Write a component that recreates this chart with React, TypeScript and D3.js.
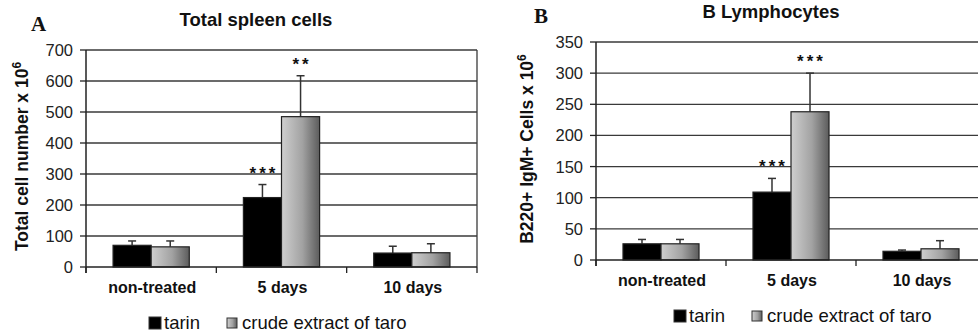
import React, { useEffect, useRef } from 'react';
import * as d3 from 'd3';

const categories = ['non-treated', '5 days', '10 days'];
const series = ['tarin', 'crude extract of taro'];

// panel A: total spleen cells (x 10^6)
const spleenTarin = [70, 224, 45];
const spleenTarinErr = [14, 42, 22];
const spleenCrude = [65, 485, 46];
const spleenCrudeErr = [19, 132, 29];
const spleenStars = [['', ''], ['***', '**'], ['', '']];
const spleenTicks = [0, 100, 200, 300, 400, 500, 600, 700];

// panel B: B220+ IgM+ cells (x 10^6)
const bTarin = [26, 109, 14];
const bTarinErr = [7, 22, 2];
const bCrude = [26, 238, 18];
const bCrudeErr = [7, 62, 13];
const bStars = [['', ''], ['***', '***'], ['', '']];
const bTicks = [0, 50, 100, 150, 200, 250, 300, 350];

const FONT = "'Liberation Sans', Arial, sans-serif";

interface PanelOpts {
  letter: string;
  title: string;
  yLabel: string;
  values: number[][];
  errors: number[][];
  stars: string[][];
  ticks: number[];
  x0: number;
  x1: number;
  yTop: number;
  yBottom: number;
  letterX: number;
  titleX: number;
  yLabelX: number;
  legendX: number;
  legendY: number;
}

function drawPanel(svg: d3.Selection<SVGSVGElement, unknown, null, undefined>, o: PanelOpts) {
  const g = svg.append('g');
  const maxV = o.ticks[o.ticks.length - 1];
  const y = d3.scaleLinear().domain([0, maxV]).range([o.yBottom, o.yTop]);
  const x = d3.scaleBand<string>().domain(categories).range([o.x0, o.x1]).padding(0);
  const xs = d3.scaleBand<string>().domain(series).range([0, x.bandwidth()]).paddingInner(0).paddingOuter(0.71);

  // gridlines
  g.selectAll('line.grid')
    .data(o.ticks.slice(1))
    .join('line')
    .attr('x1', o.x0).attr('x2', o.x1)
    .attr('y1', (d) => y(d)).attr('y2', (d) => y(d))
    .attr('stroke', '#3a3a3a').attr('stroke-width', 1.3);

  // right border
  g.append('line')
    .attr('x1', o.x1).attr('x2', o.x1).attr('y1', o.yTop).attr('y2', o.yBottom)
    .attr('stroke', '#3a3a3a').attr('stroke-width', 1.3);

  // y ticks + labels
  g.selectAll('line.ytick')
    .data(o.ticks)
    .join('line')
    .attr('x1', o.x0 - 6).attr('x2', o.x0)
    .attr('y1', (d) => y(d)).attr('y2', (d) => y(d))
    .attr('stroke', '#222').attr('stroke-width', 1.3);
  g.selectAll('text.ytick')
    .data(o.ticks)
    .join('text')
    .attr('x', o.x0 - 13)
    .attr('y', (d) => y(d) + 6)
    .attr('text-anchor', 'end')
    .style('font', `16.5px ${FONT}`)
    .attr('fill', '#222')
    .text((d) => d);

  // x ticks
  const xTickPos = categories.map((c) => x(c) as number).concat([o.x1]);
  g.selectAll('line.xtick')
    .data(xTickPos)
    .join('line')
    .attr('x1', (d) => d).attr('x2', (d) => d)
    .attr('y1', o.yBottom).attr('y2', o.yBottom + 6)
    .attr('stroke', '#222').attr('stroke-width', 1.3);

  // bars
  const gradId = `grad-${o.letter}`;
  const grad = svg.append('defs').append('linearGradient')
    .attr('id', gradId).attr('x1', '0%').attr('x2', '100%').attr('y1', '0%').attr('y2', '0%');
  grad.append('stop').attr('offset', '0%').attr('stop-color', '#cfcfcf');
  grad.append('stop').attr('offset', '55%').attr('stop-color', '#a2a2a2');
  grad.append('stop').attr('offset', '100%').attr('stop-color', '#5c5c5c');
  const fills = ['#000', `url(#${gradId})`];

  categories.forEach((c, ci) => {
    series.forEach((s, si) => {
      const v = o.values[si][ci];
      const e = o.errors[si][ci];
      const bx = (x(c) as number) + (xs(s) as number);
      const bw = xs.bandwidth();
      const cx = bx + bw / 2;
      // error bar
      g.append('line')
        .attr('x1', cx).attr('x2', cx).attr('y1', y(v)).attr('y2', y(v + e))
        .attr('stroke', '#333').attr('stroke-width', 1.5);
      g.append('line')
        .attr('x1', cx - 4).attr('x2', cx + 4).attr('y1', y(v + e)).attr('y2', y(v + e))
        .attr('stroke', '#333').attr('stroke-width', 1.5);
      g.append('rect')
        .attr('x', bx).attr('y', y(v)).attr('width', bw).attr('height', y(0) - y(v))
        .attr('fill', fills[si]).attr('stroke', '#222').attr('stroke-width', 1.2);
      const st = o.stars[ci][si];
      if (st) {
        g.append('text')
          .attr('x', cx + 1.5).attr('y', y(v + e) - 6)
          .attr('text-anchor', 'middle')
          .attr('letter-spacing', 3)
          .style('font', `bold 17px ${FONT}`)
          .attr('fill', '#111')
          .text(st);
      }
    });
  });

  // x axis + y axis
  g.append('line')
    .attr('x1', o.x0).attr('x2', o.x1).attr('y1', o.yBottom).attr('y2', o.yBottom)
    .attr('stroke', '#222').attr('stroke-width', 1.5);
  g.append('line')
    .attr('x1', o.x0).attr('x2', o.x0).attr('y1', o.yTop).attr('y2', o.yBottom + 6)
    .attr('stroke', '#222').attr('stroke-width', 1.5);

  // x labels
  g.selectAll('text.xlab')
    .data(categories)
    .join('text')
    .attr('x', (d) => (x(d) as number) + x.bandwidth() / 2 + 1)
    .attr('y', o.yBottom + 26)
    .attr('text-anchor', 'middle')
    .style('font', `bold 16px ${FONT}`)
    .attr('fill', '#111')
    .text((d) => d);

  // panel letter
  g.append('text')
    .attr('x', o.letterX).attr('y', o.yTop - 19)
    .style('font', "bold 21px 'Liberation Serif', 'Times New Roman', serif")
    .attr('fill', '#111')
    .text(o.letter);

  // title
  g.append('text')
    .attr('x', o.titleX).attr('y', o.yTop - 24)
    .attr('text-anchor', 'middle')
    .style('font', `bold 18.5px ${FONT}`)
    .attr('fill', '#111')
    .text(o.title);

  // y label
  const yl = g.append('text')
    .attr('transform', `translate(${o.yLabelX},${(o.yTop + o.yBottom) / 2 - 2}) rotate(-90)`)
    .attr('text-anchor', 'middle')
    .style('font', `bold 17.5px ${FONT}`)
    .attr('fill', '#111');
  yl.append('tspan').text(o.yLabel);
  yl.append('tspan').attr('dy', -7).style('font-size', '12px').text('6');

  // legend
  const lg = g.append('g').attr('transform', `translate(${o.legendX},${o.legendY})`);
  let lx = 0;
  series.forEach((s, si) => {
    lg.append('rect')
      .attr('x', lx).attr('y', si === 0 ? -12 : -11).attr('width', si === 0 ? 12 : 10).attr('height', si === 0 ? 12 : 10)
      .attr('fill', fills[si]).attr('stroke', '#333').attr('stroke-width', 1);
    const t = lg.append('text')
      .attr('x', lx + 15).attr('y', 0)
      .style('font', `18.5px ${FONT}`)
      .attr('fill', '#111')
      .text(s);
    const w = (t.node() as SVGTextElement).getComputedTextLength();
    lx += 15 + w + 27;
  });
}

const App: React.FC = () => {
  const svgRef = useRef<SVGSVGElement | null>(null);
  useEffect(() => {
    document.body.style.margin = '0';
    if (!svgRef.current) return;
    const svg = d3.select(svgRef.current);
    svg.selectAll('*').remove();

    drawPanel(svg, {
      letter: 'A', title: 'Total spleen cells', yLabel: 'Total cell number x 10',
      values: [spleenTarin, spleenCrude], errors: [spleenTarinErr, spleenCrudeErr],
      stars: spleenStars, ticks: spleenTicks,
      x0: 86, x1: 477, yTop: 50, yBottom: 267,
      letterX: 31, titleX: 256, yLabelX: 28, legendX: 149, legendY: 329,
    });
    drawPanel(svg, {
      letter: 'B', title: 'B Lymphocytes', yLabel: 'B220+ IgM+ Cells x 10',
      values: [bTarin, bCrude], errors: [bTarinErr, bCrudeErr],
      stars: bStars, ticks: bTicks,
      x0: 596, x1: 986, yTop: 42, yBottom: 260,
      letterX: 534, titleX: 771, yLabelX: 533, legendX: 674, legendY: 322,
    });

    return () => { svg.selectAll('*').remove(); };
  }, []);

  return <svg ref={svgRef} width={978} height={332} style={{ display: 'block', background: '#fff' }} />;
};

export default App;
